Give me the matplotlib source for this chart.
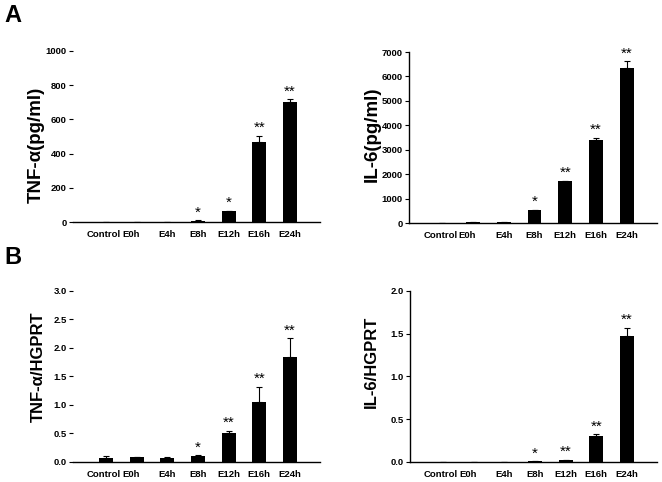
import matplotlib
matplotlib.use('Agg')
import matplotlib.pyplot as plt
from matplotlib.transforms import ScaledTranslation

plt.rcParams['font.family'] = ['Liberation Sans', 'DejaVu Sans']

# groups on the x axis
groups = ['Control', 'E0h', 'E4h', 'E8h', 'E12h', 'E16h', 'E24h']

# A: protein levels
tnf_pg = [0, 0, 1, 8, 63, 466, 703]
tnf_pg_err = [0, 0, 0, 2, 3, 38, 16]
il6_pg = [8, 25, 35, 530, 1700, 3410, 6330]
il6_pg_err = [0, 5, 5, 10, 30, 90, 290]

# B: mRNA relative to HGPRT
tnf_hg = [0.075, 0.09, 0.075, 0.11, 0.515, 1.05, 1.84]
tnf_hg_err = [0.025, 0.005, 0.008, 0.012, 0.035, 0.27, 0.33]
il6_hg = [0, 0, 0, 0.008, 0.025, 0.30, 1.47]
il6_hg_err = [0, 0, 0, 0.002, 0.003, 0.025, 0.1]

# significance marks
stars_a_left = ['', '', '', '*', '*', '**', '**']
stars_other = ['', '', '', '*', '**', '**', '**']

fig = plt.figure(figsize=(6.62, 4.82), dpi=100)


def draw_panel(rect, vals, errs, stars, ymax, yticks, ytick_fmt, ylabel,
               label_fs, label_xy, left_spine=True):
    ax = fig.add_axes(rect)
    x = list(range(len(groups)))
    ax.bar(x, vals, width=0.45, color='black', zorder=2)
    ax.errorbar(x, vals, yerr=[[0] * len(errs), errs], fmt='none',
                ecolor='black', elinewidth=0.8, capsize=2.5,
                capthick=0.8, zorder=3)
    for xi, v, e, s in zip(x, vals, errs, stars):
        if s:
            ax.annotate(s, (xi, v + e), xytext=(0, 0.5),
                        textcoords='offset points', ha='center',
                        va='bottom', fontsize=11)
    ax.set_xlim(-1.08, 6.98)
    ax.set_ylim(0, ymax)
    ax.set_yticks(yticks)
    ax.set_yticklabels([ytick_fmt.format(t) for t in yticks],
                       fontsize=6.8, fontweight='bold')
    ax.set_xticks(x)
    ax.set_xticklabels(groups, fontsize=6.8, fontweight='bold')
    ax.tick_params(axis='x', length=0, pad=6)
    ax.tick_params(axis='y', length=3, width=0.8, pad=1.5, direction='out')
    for side in ['top', 'right']:
        ax.spines[side].set_visible(False)
    ax.spines['bottom'].set_linewidth(1.0)
    if left_spine:
        ax.spines['left'].set_linewidth(1.0)
    else:
        ax.spines['left'].set_visible(False)
    # nudge E0h a bit towards Control, as in the original
    shift = {'Control': -2, 'E0h': -6}
    for lab in ax.get_xticklabels():
        dx = shift.get(lab.get_text(), 0)
        if dx:
            lab.set_transform(lab.get_transform() +
                              ScaledTranslation(dx / 100, 0, fig.dpi_scale_trans))
    ax.text(label_xy[0], label_xy[1], ylabel, transform=ax.transAxes,
            rotation=90, ha='center', va='center', fontsize=label_fs,
            fontweight='bold')
    return ax


draw_panel([0.1103, 0.5394, 0.373, 0.3548], tnf_pg, tnf_pg_err, stars_a_left,
           1000, [0, 200, 400, 600, 800, 1000], '{:d}', 'TNF-α(pg/ml)',
           13.5, (-0.15, 0.45), left_spine=False)
draw_panel([0.6178, 0.5373, 0.3746, 0.3548], il6_pg, il6_pg_err, stars_other,
           7000, [0, 1000, 2000, 3000, 4000, 5000, 6000, 7000], '{:d}',
           'IL-6(pg/ml)', 13.5, (-0.15, 0.52))
draw_panel([0.1103, 0.0415, 0.373, 0.3548], tnf_hg, tnf_hg_err, stars_other,
           3.0, [0, 0.5, 1.0, 1.5, 2.0, 2.5, 3.0], '{:.1f}', 'TNF-α/HGPRT',
           12, (-0.142, 0.556), left_spine=False)
draw_panel([0.6193, 0.0415, 0.3731, 0.3548], il6_hg, il6_hg_err, stars_other,
           2.0, [0, 0.5, 1.0, 1.5, 2.0], '{:.1f}', 'IL-6/HGPRT',
           12, (-0.158, 0.585))

fig.text(0.006, 0.992, 'A', fontsize=17, fontweight='bold', va='top')
fig.text(0.006, 0.49, 'B', fontsize=17, fontweight='bold', va='top')

fig.savefig('out.png', dpi=100)
